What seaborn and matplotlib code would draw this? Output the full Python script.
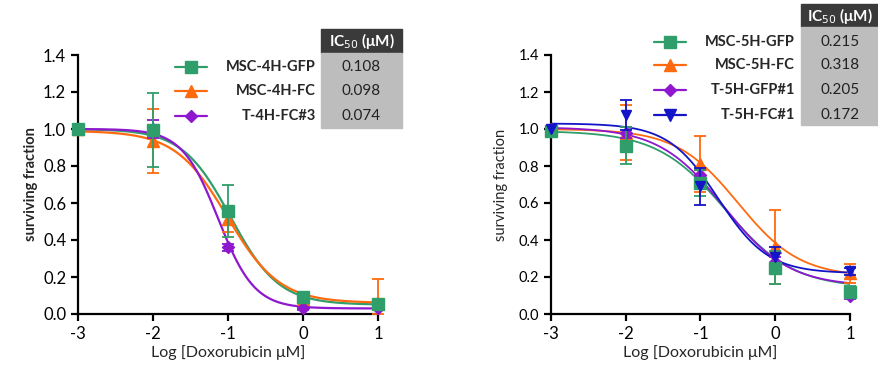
import numpy as np
import pandas as pd
import matplotlib
matplotlib.use("Agg")
import matplotlib.pyplot as plt
from matplotlib.lines import Line2D
from matplotlib.patches import Rectangle
import seaborn as sns

# -------------------------
# Data
# -------------------------
log_dose = [-3, -2, -1, 0, 1]

# left panel: 4H lines
left_names = ["MSC-4H-GFP", "MSC-4H-FC", "T-4H-FC#3"]
left_ic50 = [0.108, 0.098, 0.074]
left_gfp = [1.00, 0.995, 0.555, 0.094, 0.052]
left_fc = [1.00, 0.935, 0.515, 0.080, 0.060]
left_t = [1.00, 1.000, 0.360, 0.030, 0.030]
left_gfp_err = [0, 0.20, 0.14, 0.02, 0.02]
left_fc_err = [0, 0.175, 0.07, 0.02, 0.13]
left_t_err = [0, 0.05, 0.02, 0.01, 0.01]
# fit parameters (top, bottom, hill)
left_top = [1.00, 0.99, 1.00]
left_bottom = [0.05, 0.06, 0.03]
left_hill = [1.35, 1.25, 1.8]

# right panel: 5H lines
right_names = ["MSC-5H-GFP", "MSC-5H-FC", "T-5H-GFP#1", "T-5H-FC#1"]
right_ic50 = [0.215, 0.318, 0.205, 0.172]
right_gfp = [0.99, 0.91, 0.71, 0.25, 0.12]
right_fc = [1.00, 0.98, 0.81, 0.36, 0.22]
right_t_gfp = [1.00, 0.98, 0.75, 0.28, 0.10]
right_t_fc = [1.00, 1.075, 0.69, 0.31, 0.23]
right_gfp_err = [0, 0.10, 0.07, 0.09, 0.03]
right_fc_err = [0, 0.15, 0.15, 0.20, 0.05]
right_t_gfp_err = [0, 0.03, 0.03, 0.03, 0.02]
right_t_fc_err = [0, 0.08, 0.10, 0.05, 0.02]
right_top = [0.99, 1.00, 1.01, 1.03]
right_bottom = [0.14, 0.20, 0.15, 0.22]
right_hill = [0.95, 1.05, 1.0, 1.3]

colors = ["#2f9e6b", "#ff6a0f", "#8e17cf", "#1414c8"]
markers = ["s", "^", "D", "v"]
msizes = [9, 9, 6.5, 8]

sns.set_style("ticks")
plt.rcParams["font.family"] = ["Lato", "DejaVu Sans"]

fig = plt.figure(figsize=(8.79, 3.79), dpi=100)
ax_l = fig.add_axes([78 / 879, 1 - 314 / 379, 300 / 879, 259 / 379])
ax_r = fig.add_axes([551 / 879, 1 - 314 / 379, 299 / 879, 259 / 379])

x_fit = np.linspace(-3, 1, 200)


def draw_panel(ax, names, ic50, tops, bottoms, hills, values, errors, scale, lw):
    rows = []
    for name, ic, top, bot, h in zip(names, ic50, tops, bottoms, hills):
        y = bot + (top - bot) / (1 + 10 ** ((x_fit - np.log10(ic)) * h))
        rows.append(pd.DataFrame({"x": x_fit, "y": y, "line": name}))
    fit = pd.concat(rows)
    sns.lineplot(data=fit, x="x", y="y", hue="line", palette=colors[:len(names)],
                 linewidth=lw, legend=False, ax=ax)
    for i, (vals, errs) in enumerate(zip(values, errors)):
        lo = np.minimum(errs, vals)
        ax.errorbar(log_dose, vals, yerr=[lo, errs], fmt=markers[i], color=colors[i],
                    markersize=msizes[i] * scale, capsize=4, elinewidth=1.3, capthick=1.3,
                    clip_on=False, zorder=3 + i if i != 0 else 6)
    ax.set_xlim(-3, 1)
    ax.set_ylim(0, 1.4)
    ax.set_xticks([-3, -2, -1, 0, 1])
    ax.set_yticks([0.0, 0.2, 0.4, 0.6, 0.8, 1.0, 1.2, 1.4])
    ax.set_yticklabels(["0.0", "0.2", "0.4", "0.6", "0.8", "1.0", "1.2", "1.4"])
    ax.set_xticklabels(["-3", "-2", "-1", "0", "1"])
    for s in ["top", "right"]:
        ax.spines[s].set_visible(False)
    for s in ["left", "bottom"]:
        ax.spines[s].set_linewidth(1.6)
        ax.spines[s].set_color("black")
    ax.tick_params(direction="out", length=5, width=1.6, colors="black")
    ax.set_xlabel("Log [Doxorubicin μM]", fontsize=11.5, labelpad=2)


draw_panel(ax_l, left_names, left_ic50, left_top, left_bottom, left_hill,
           [left_gfp, left_fc, left_t], [left_gfp_err, left_fc_err, left_t_err], 1.0, 1.6)
draw_panel(ax_r, right_names, right_ic50, right_top, right_bottom, right_hill,
           [right_gfp, right_fc, right_t_gfp, right_t_fc],
           [right_gfp_err, right_fc_err, right_t_gfp_err, right_t_fc_err], 0.9, 1.3)

ax_l.tick_params(labelsize=12)
ax_r.tick_params(axis="x", labelsize=12)
ax_r.tick_params(axis="y", labelsize=10.5)
ax_l.set_ylabel("surviving fraction", fontsize=10.5, fontweight="bold", labelpad=4)
ax_r.set_ylabel("surviving fraction", fontsize=10.5, labelpad=8)


# -------------------------
# Legends + IC50 tables (figure pixel coords)
# -------------------------
def px(x, y):
    return x / 879, 1 - y / 379


def legend_table(names, ic50, rows_y, mark_x, text_x, box_x0, box_x1, head_y0, head_y1, box_y1):
    fig.add_artist(Rectangle(px(box_x0, head_y1), (box_x1 - box_x0) / 879, (head_y1 - head_y0) / 379,
                             transform=fig.transFigure, color="#3a3a3a", zorder=1))
    fig.add_artist(Rectangle(px(box_x0, box_y1), (box_x1 - box_x0) / 879, (box_y1 - head_y1) / 379,
                             transform=fig.transFigure, color="#bdbdbd", zorder=1))
    cx = (box_x0 + box_x1) / 2
    fig.text(*px(cx, (head_y0 + head_y1) / 2), "IC$_{50}$ (μM)", color="white",
             fontsize=11, fontweight="bold", ha="center", va="center")
    for i, (name, ic, y) in enumerate(zip(names, ic50, rows_y)):
        fig.add_artist(Line2D([(mark_x - 16) / 879, (mark_x + 16) / 879], [1 - y / 379] * 2,
                              transform=fig.transFigure, color=colors[i], lw=1.6))
        fig.add_artist(Line2D([mark_x / 879], [1 - y / 379], transform=fig.transFigure,
                              color=colors[i], marker=markers[i], markersize=msizes[i], lw=0))
        fig.text(*px(text_x, y), name, fontsize=10.5, fontweight="bold",
                 ha="right", va="center")
        fig.text(*px(cx, y), f"{ic:.3f}", fontsize=11, ha="center", va="center",
                 color="#222222")


legend_table(left_names, left_ic50, [67, 91, 116], 191, 316, 321, 402, 29, 53, 128)
legend_table(right_names, right_ic50, [42, 65, 90, 115], 670, 795, 801, 879, 4, 27, 125)

plt.savefig("out.png", dpi=100)
plt.close()
